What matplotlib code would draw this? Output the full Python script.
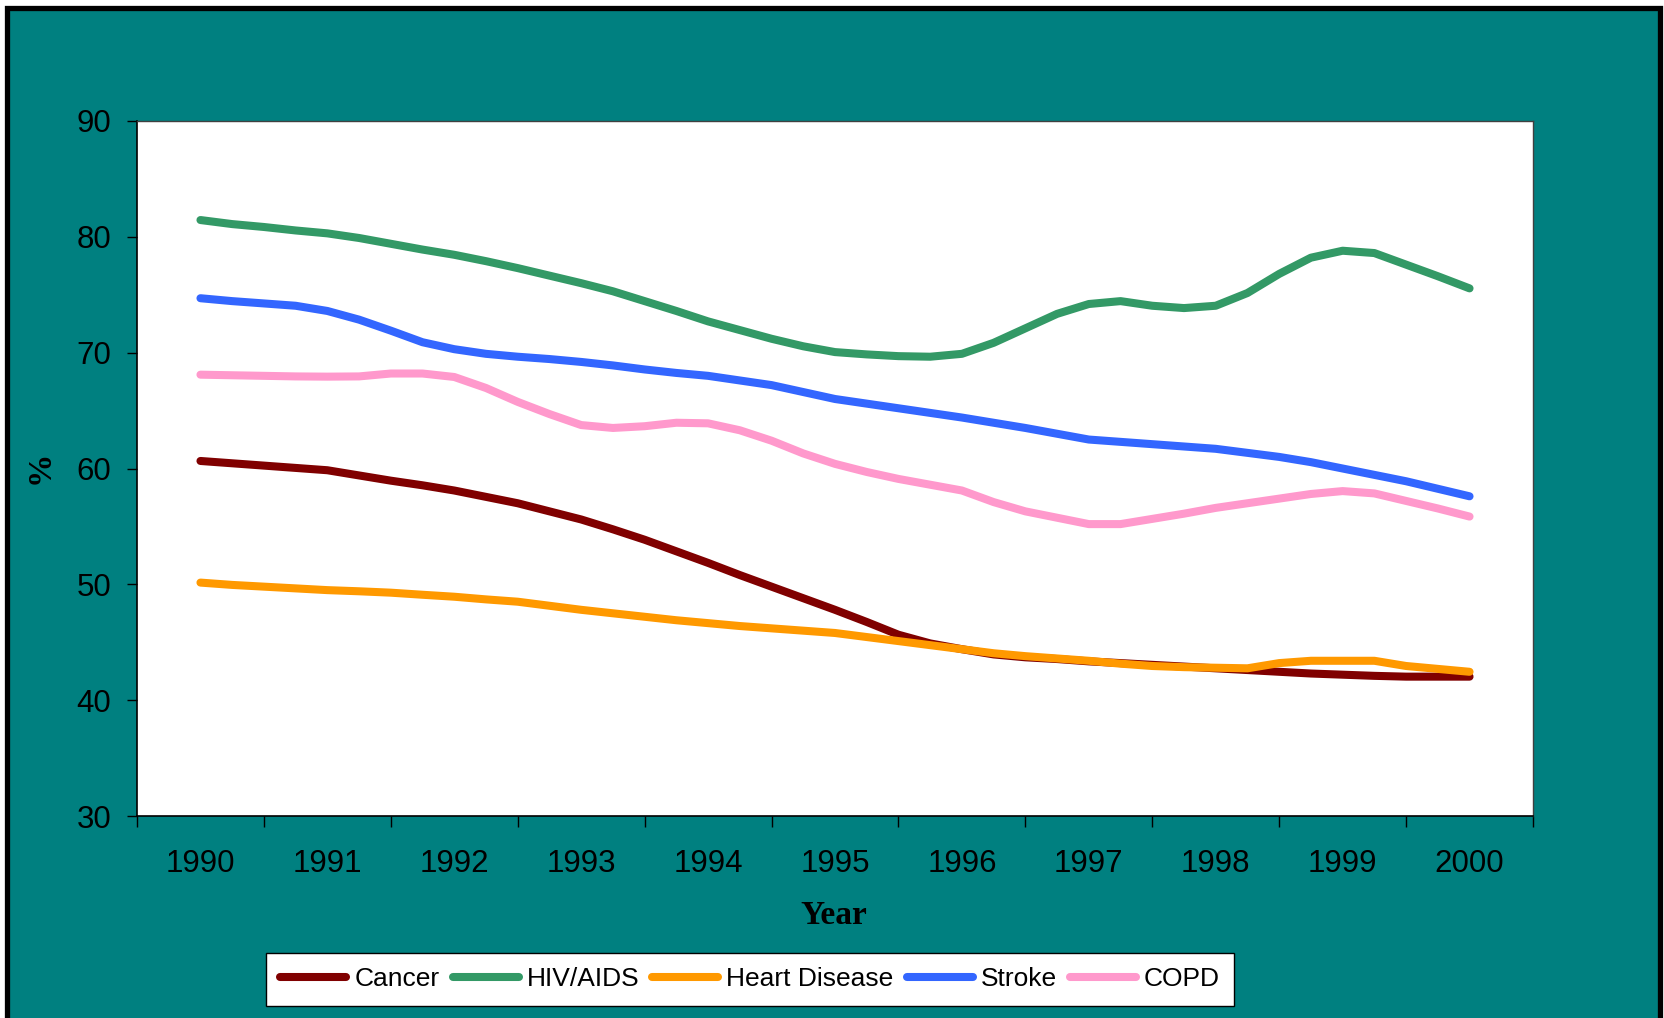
import matplotlib
matplotlib.use("Agg")
import matplotlib.pyplot as plt
from matplotlib.patches import Rectangle

# time points (quarter-year steps)
period = [1990.0, 1990.25, 1990.5, 1990.75, 1991.0, 1991.25, 1991.5, 1991.75,
          1992.0, 1992.25, 1992.5, 1992.75, 1993.0, 1993.25, 1993.5, 1993.75,
          1994.0, 1994.25, 1994.5, 1994.75, 1995.0, 1995.25, 1995.5, 1995.75,
          1996.0, 1996.25, 1996.5, 1996.75, 1997.0, 1997.25, 1997.5, 1997.75,
          1998.0, 1998.25, 1998.5, 1998.75, 1999.0, 1999.25, 1999.5, 1999.75,
          2000.0]
years = [1990, 1991, 1992, 1993, 1994, 1995, 1996, 1997, 1998, 1999, 2000]

cancer = [60.65, 60.45, 60.25, 60.05, 59.85, 59.4, 58.95, 58.55,
          58.1, 57.55, 57.0, 56.3, 55.6, 54.75, 53.85, 52.85,
          51.85, 50.8, 49.8, 48.8, 47.8, 46.75, 45.65, 44.9,
          44.4, 43.95, 43.7, 43.55, 43.35, 43.2, 43.05, 42.9,
          42.75, 42.6, 42.45, 42.3, 42.2, 42.1, 42.03, 42.03,
          42.03]
hiv = [81.45, 81.1, 80.85, 80.55, 80.3, 79.9, 79.4, 78.9,
       78.45, 77.9, 77.3, 76.65, 76.0, 75.3, 74.45, 73.6,
       72.7, 71.95, 71.2, 70.55, 70.05, 69.85, 69.7, 69.65,
       69.9, 70.85, 72.1, 73.35, 74.2, 74.45, 74.05, 73.85,
       74.05, 75.15, 76.8, 78.2, 78.8, 78.6, 77.6, 76.6,
       75.55]
heart = [50.15, 49.95, 49.8, 49.65, 49.5, 49.4, 49.28, 49.1,
         48.93, 48.7, 48.5, 48.15, 47.8, 47.5, 47.2, 46.9,
         46.65, 46.4, 46.2, 46.0, 45.8, 45.45, 45.1, 44.75,
         44.4, 44.05, 43.8, 43.6, 43.4, 43.15, 42.95, 42.85,
         42.8, 42.75, 43.2, 43.4, 43.4, 43.4, 42.95, 42.7,
         42.45]
stroke = [74.7, 74.45, 74.25, 74.05, 73.6, 72.85, 71.9, 70.9,
          70.3, 69.9, 69.65, 69.45, 69.2, 68.9, 68.55, 68.25,
          68.0, 67.6, 67.2, 66.6, 66.0, 65.6, 65.2, 64.8,
          64.4, 63.95, 63.5, 63.0, 62.5, 62.3, 62.1, 61.9,
          61.7, 61.35, 61.0, 60.55, 60.0, 59.45, 58.9, 58.25,
          57.6]
copd = [68.1, 68.05, 68.0, 67.95, 67.93, 67.95, 68.2, 68.2,
        67.9, 66.95, 65.75, 64.7, 63.75, 63.5, 63.65, 63.95,
        63.9, 63.3, 62.4, 61.3, 60.4, 59.7, 59.1, 58.6,
        58.1, 57.1, 56.3, 55.75, 55.2, 55.2, 55.65, 56.1,
        56.6, 57.0, 57.4, 57.8, 58.05, 57.85, 57.2, 56.55,
        55.85]

series = [("Cancer", cancer, "#800000"),
          ("HIV/AIDS", hiv, "#339966"),
          ("Heart Disease", heart, "#FF9900"),
          ("Stroke", stroke, "#3366FF"),
          ("COPD", copd, "#FF99CC")]

plt.rcParams['font.family'] = ['Liberation Sans', 'DejaVu Sans']

W, H = 1665, 1018
fig = plt.figure(figsize=(W / 100, H / 100), dpi=100, facecolor="white")

# teal background with black frame (open at the bottom)
fig.patches.append(Rectangle((7.5 / W, -0.05), (1660 - 7.5) / W, 1.05 - 7.5 / H,
                             transform=fig.transFigure, facecolor="#008080",
                             edgecolor="black", linewidth=3.8, zorder=-10))

ax = fig.add_axes([137 / W, 1 - 816 / H, (1533 - 137) / W, (816 - 121) / H])
ax.set_zorder(1)
ax.set_facecolor("white")

for name, vals, col in series:
    ax.plot(period, vals, color=col, lw=5.8, label=name,
            solid_capstyle="round", solid_joinstyle="round")

ax.set_xlim(1989.5, 2000.5)
ax.set_ylim(30, 90)
ax.set_yticks(range(30, 91, 10))
ax.set_xticks([y - 0.5 for y in years] + [2000.5])
ax.set_xticklabels([])
ax.set_xticks(years, minor=True)
ax.set_xticklabels([str(y) for y in years], minor=True)
ax.tick_params(axis="x", which="major", length=8, width=1, color="black", direction="out")
ax.tick_params(axis="x", which="minor", length=0, pad=24, labelsize=22.5)
ax.tick_params(axis="y", length=7.5, width=1, color="black", pad=11, labelsize=22.5)

for side in ["top", "right"]:
    ax.spines[side].set_color("#404040")
    ax.spines[side].set_linewidth(1)
for side in ["left", "bottom"]:
    ax.spines[side].set_color("black")
    ax.spines[side].set_linewidth(1.2)

fig.text(40 / W, 1 - 467 / H, "%", rotation=90, ha="center", va="center",
         fontsize=24, fontweight="bold", family=["Liberation Serif", "DejaVu Serif"])
fig.text(834 / W, 1 - 916 / H, "Year", ha="center", va="center",
         fontsize=24, fontweight="bold", family=["Liberation Serif", "DejaVu Serif"])

leg = fig.legend(loc="center", bbox_to_anchor=(750 / W, 1 - 979.5 / H), ncol=5,
                 fontsize=19, frameon=True, fancybox=False, framealpha=1,
                 edgecolor="black", handlelength=2.5, handletextpad=0.3,
                 columnspacing=0.5, borderpad=0.55, borderaxespad=0)
leg.get_frame().set_linewidth(1)
leg.set_zorder(2)
for line in leg.get_lines():
    line.set_linewidth(5.8)
    line.set_solid_capstyle("round")

fig.savefig("out.png", dpi=100, facecolor=fig.get_facecolor())
